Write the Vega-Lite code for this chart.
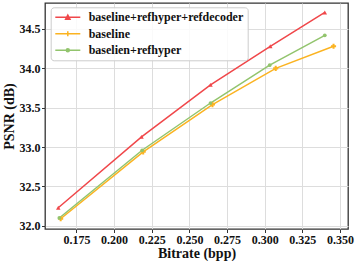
{
  "$schema": "https://vega.github.io/schema/vega-lite/v6.json",
  "width": 303,
  "height": 226,
  "autosize": "none",
  "padding": {"left": 45, "top": 3, "right": 9, "bottom": 32},
  "background": "white",
  "config": {
    "view": {"stroke": "#333333", "strokeWidth": 1.3},
    "font": "Liberation Serif",
    "axis": {
      "labelFont": "Liberation Serif", "labelFontWeight": "bold", "labelFontSize": 12, "labelColor": "#111",
      "titleFont": "Liberation Serif", "titleFontWeight": "bold", "titleFontSize": 14, "titleColor": "#111",
      "gridColor": "#dddddd", "gridWidth": 1, "gridOpacity": 1,
      "tickColor": "#333", "tickSize": 3.5, "domain": false, "labelPadding": 1.5
    }
  },
  "data": {"values": [
    {"series": "baseline+refhyper+refdecoder", "bpp": 0.1629, "psnr": 32.23},
    {"series": "baseline+refhyper+refdecoder", "bpp": 0.2182, "psnr": 33.13},
    {"series": "baseline+refhyper+refdecoder", "bpp": 0.2640, "psnr": 33.79},
    {"series": "baseline+refhyper+refdecoder", "bpp": 0.3037, "psnr": 34.28},
    {"series": "baseline+refhyper+refdecoder", "bpp": 0.3399, "psnr": 34.71},
    {"series": "baseline", "bpp": 0.1645, "psnr": 32.09},
    {"series": "baseline", "bpp": 0.2193, "psnr": 32.94},
    {"series": "baseline", "bpp": 0.2653, "psnr": 33.54},
    {"series": "baseline", "bpp": 0.3073, "psnr": 34.00},
    {"series": "baseline", "bpp": 0.3457, "psnr": 34.28},
    {"series": "baselien+refhyper", "bpp": 0.1636, "psnr": 32.10},
    {"series": "baselien+refhyper", "bpp": 0.2186, "psnr": 32.96},
    {"series": "baselien+refhyper", "bpp": 0.2640, "psnr": 33.56},
    {"series": "baselien+refhyper", "bpp": 0.3033, "psnr": 34.04},
    {"series": "baselien+refhyper", "bpp": 0.3399, "psnr": 34.42}
  ]},
  "encoding": {
    "x": {"field": "bpp", "type": "quantitative",
      "scale": {"domain": [0.1541, 0.3553], "nice": false, "zero": false},
      "axis": {"title": "Bitrate (bpp)", "values": [0.175, 0.2, 0.225, 0.25, 0.275, 0.3, 0.325, 0.35], "format": ".3f", "titlePadding": 1}},
    "y": {"field": "psnr", "type": "quantitative",
      "scale": {"domain": [31.96, 34.83], "nice": false, "zero": false},
      "axis": {"title": "PSNR (dB)", "values": [32, 32.5, 33, 33.5, 34, 34.5], "format": ".1f", "titlePadding": 3}}
  },
  "layer": [
    {
      "mark": {"type": "line", "strokeWidth": 1.5},
      "encoding": {
        "color": {"field": "series", "type": "nominal",
          "scale": {"domain": ["baseline+refhyper+refdecoder", "baseline", "baselien+refhyper"], "range": ["#f0474a", "#fbb321", "#92c46d"]},
          "legend": {
            "title": null, "orient": "none", "legendX": 5.7, "legendY": 4.3,
            "padding": 4, "rowPadding": 4.5, "labelOffset": 22,
            "symbolSize": 100, "symbolStrokeWidth": 1.5,
            "symbolType": "M-1.08,0L3.92,0",
            "labelFont": "Liberation Serif", "labelFontWeight": "bold", "labelFontSize": 12, "labelColor": "#111", "labelLimit": 300,
            "fillColor": "rgba(255,255,255,0.85)", "strokeColor": "#cccccc", "cornerRadius": 3,
            "encode": {"symbols": {"update": {
              "shape": {"signal": "datum.value === 'baseline+refhyper+refdecoder' ? 'M-1.08,0L3.92,0M0.98,0.4L1.42,-0.45L1.86,0.4Z' : datum.value === 'baseline' ? 'M-1.08,0L3.92,0M1.42,-0.5L1.42,0.5M0.95,0L1.89,0' : 'M-1.08,0L3.92,0M1.12,0L1.2,-0.22L1.42,-0.3L1.64,-0.22L1.72,0L1.64,0.22L1.42,0.3L1.2,0.22Z'"},
              "fill": {"scale": "color", "field": "value"},
              "stroke": {"scale": "color", "field": "value"},
              "strokeWidth": {"value": 1.5},
              "opacity": {"value": 1}
            }}}
          }}
      }
    },
    {
      "transform": [{"filter": "datum.series === 'baseline+refhyper+refdecoder'"}],
      "mark": {"type": "point", "filled": true, "opacity": 1, "shape": "triangle-up", "size": 20, "color": "#f0474a"}
    },
    {
      "transform": [{"filter": "datum.series === 'baseline'"}],
      "mark": {"type": "point", "filled": true, "opacity": 1, "shape": "cross", "size": 26, "color": "#fbb321"}
    },
    {
      "transform": [{"filter": "datum.series === 'baselien+refhyper'"}],
      "mark": {"type": "point", "filled": true, "opacity": 1, "shape": "circle", "size": 14, "color": "#92c46d"}
    }
  ]
}
